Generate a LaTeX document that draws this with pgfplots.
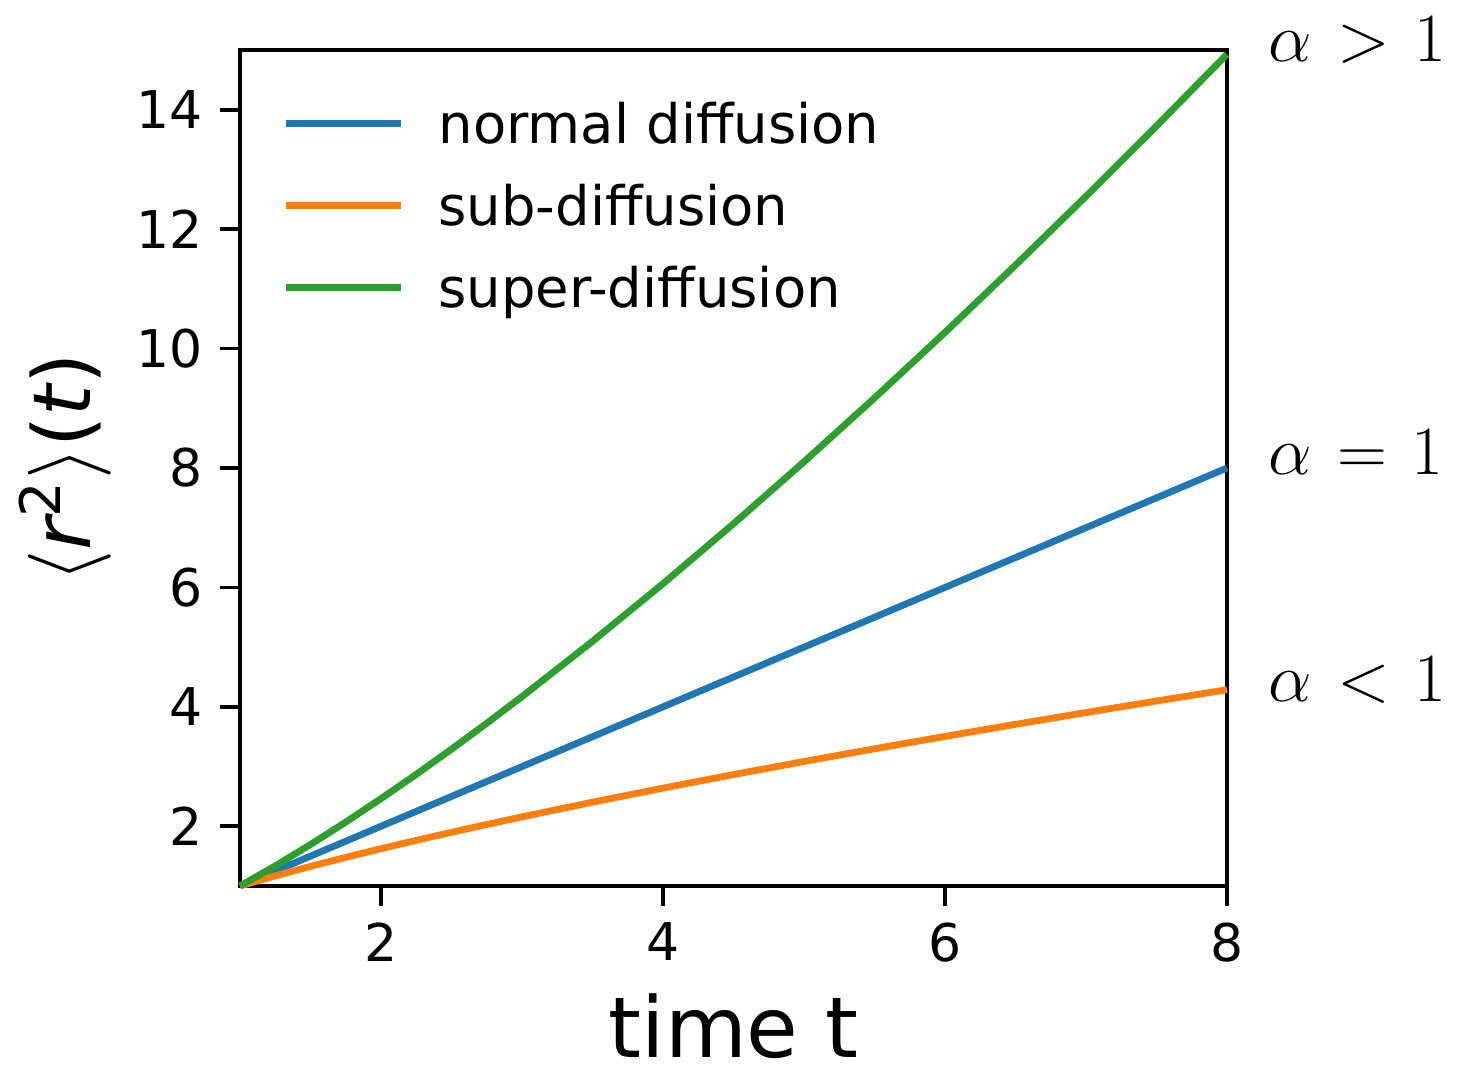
\documentclass[border=0pt]{standalone}
\usepackage{fontspec}
\setmainfont{DejaVu Sans}
\usepackage{pgfplots}
\pgfplotsset{compat=1.18}
\definecolor{tabblue}{HTML}{1F77B4}
\definecolor{taborange}{HTML}{FF7F0E}
\definecolor{tabgreen}{HTML}{2CA02C}

\begin{document}
\begin{tikzpicture}
\begin{axis}[
  scale only axis,
  width=246.75pt, height=209pt,
  xmin=1, xmax=8, ymin=1, ymax=15,
  xtick={2,4,6,8}, ytick={2,4,6,8,10,12,14},
  tick align=outside, tick pos=left,
  major tick length=5pt,
  every tick/.style={black, line width=0.9pt},
  axis line style={black, line width=0.9pt},
  /pgf/number format/assume math mode=true,
  tick label style={font=\fontsize{13}{15}\selectfont},
  xticklabel style={anchor=north, inner sep=0pt, yshift=-4pt},
  yticklabel style={anchor=east, inner sep=0pt, xshift=-4.25pt},
  xlabel={time t},
  xlabel style={at={(rel axis cs:0.5,0)}, anchor=base, yshift=-43pt,
    font=\fontsize{21}{25}\selectfont},
  ylabel={$\langle${\itshape r}\textsuperscript{2}$\rangle$({\itshape t})},
  ylabel style={at={([xshift=-43.75pt]rel axis cs:0,0.5)}, anchor=center,
    font=\fontsize{20}{24}\selectfont},
  clip=false,
  legend cell align=left,
  legend image code/.code={\draw[#1, line width=1.7pt] (0pt,5pt) -- (28.75pt,5pt);},
  legend style={draw=none, fill=none, at={(rel axis cs:0,1)}, anchor=north west,
    xshift=10.5pt, yshift=-13.25pt, inner sep=0pt, row sep=7.5pt,
    column sep=8.5pt, font=\fontsize{13.6}{16}\selectfont,
    nodes={inner sep=0pt, text height=10pt, text depth=3pt, anchor=base west}},
]
% normal diffusion, alpha = 1
\addplot[tabblue, line width=1.7pt] coordinates {
  (1,1) (2,2) (3,3) (4,4) (5,5) (6,6) (7,7) (8,8)};
% sub-diffusion, alpha = 0.7
\addplot[taborange, line width=1.7pt] coordinates {
  (1,1) (1.25,1.1691) (1.5,1.3282) (1.75,1.4795) (2,1.6245) (2.25,1.7641)
  (2.5,1.8991) (2.75,2.0302) (3,2.1577) (3.5,2.4036)
  (4,2.6390) (4.5,2.8658) (5,3.0852) (5.5,3.2980) (6,3.5051) (6.5,3.7071)
  (7,3.9045) (7.5,4.0977) (8,4.2871)};
% super-diffusion, alpha = 1.3
\addplot[tabgreen, line width=1.7pt] coordinates {
  (1,1) (1.25,1.3366) (1.5,1.6940) (1.75,2.0699) (2,2.4623) (2.25,2.8697)
  (2.5,3.2910) (2.75,3.7250) (3,4.1711) (3.5,5.0969)
  (4,6.0629) (4.5,7.0656) (5,8.1033) (5.5,9.1722) (6,10.2704) (6.5,11.3969)
  (7,12.5495) (7.5,13.7273) (8,14.9285)};
\legend{normal diffusion, sub-diffusion, super-diffusion}

\node[anchor=base west, inner sep=0pt, font=\fontsize{19}{23}\selectfont]
  at ([xshift=10.25pt, yshift=206pt]rel axis cs:1,0) {$\alpha\mkern1.5mu>\mkern1.5mu1$};
\node[anchor=base west, inner sep=0pt, font=\fontsize{19}{23}\selectfont]
  at ([xshift=10.25pt, yshift=102.75pt]rel axis cs:1,0) {$\alpha\mkern1.5mu=\mkern1.5mu1$};
\node[anchor=base west, inner sep=0pt, font=\fontsize{19}{23}\selectfont]
  at ([xshift=10.25pt, yshift=46pt]rel axis cs:1,0) {$\alpha\mkern1.5mu<\mkern1.5mu1$};
\end{axis}
\pgfresetboundingbox
\path ([xshift=-60pt, yshift=-46.5pt]current axis.south west)
  rectangle ([xshift=305pt, yshift=221.5pt]current axis.south west);
\end{tikzpicture}
\end{document}
